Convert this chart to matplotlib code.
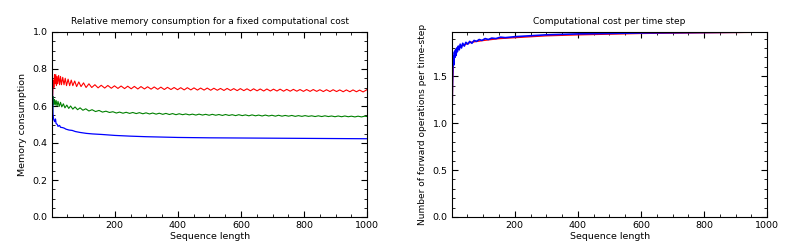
import matplotlib
matplotlib.use('Agg')
import matplotlib.pyplot as plt
from matplotlib.ticker import MultipleLocator

# left panel: relative memory for fixed compute (sawtooth vertices)
red_x = [3, 5, 7, 9, 11, 13, 15, 17, 19, 22, 25, 28, 31, 35, 39, 43, 47, 52, 57, 62, 67, 73, 79, 86, 93,
         101, 109, 118, 127, 137, 147, 157, 168, 178, 189, 199, 210, 220, 231, 241, 252, 262, 273, 283,
         294, 304, 315, 325, 336, 346, 357, 367, 378, 388, 399, 409, 420, 430, 441, 451, 462, 472, 483,
         493, 504, 514, 525, 535, 546, 556, 567, 577, 588, 598, 609, 619, 630, 640, 651, 661, 672, 682,
         693, 703, 714, 724, 735, 745, 756, 766, 777, 787, 798, 808, 819, 829, 840, 850, 861, 871, 882,
         892, 903, 913, 924, 934, 945, 955, 966, 976, 987, 997, 1000]
red_y = [0.65, 0.74, 0.70, 0.77, 0.72, 0.77, 0.71, 0.76, 0.72, 0.765, 0.715, 0.76, 0.715, 0.755, 0.715,
         0.75, 0.71, 0.745, 0.71, 0.74, 0.71, 0.735, 0.705, 0.73, 0.705, 0.725, 0.70, 0.72, 0.70, 0.715,
         0.698, 0.712, 0.697, 0.711, 0.696, 0.709, 0.695, 0.708, 0.694, 0.707, 0.693, 0.706, 0.692, 0.705,
         0.692, 0.704, 0.691, 0.703, 0.690, 0.702, 0.689, 0.701, 0.689, 0.700, 0.688, 0.699, 0.687, 0.699,
         0.687, 0.698, 0.686, 0.697, 0.686, 0.697, 0.685, 0.696, 0.685, 0.695, 0.684, 0.695, 0.684, 0.694,
         0.683, 0.694, 0.683, 0.693, 0.682, 0.693, 0.682, 0.692, 0.681, 0.692, 0.681, 0.691, 0.681, 0.691,
         0.680, 0.690, 0.680, 0.690, 0.680, 0.689, 0.679, 0.689, 0.679, 0.689, 0.679, 0.688, 0.678, 0.688,
         0.678, 0.688, 0.678, 0.687, 0.677, 0.687, 0.677, 0.687, 0.677, 0.686, 0.676, 0.686, 0.69]

green_x = [3, 5, 7, 9, 11, 14, 17, 20, 24, 28, 32, 37, 42, 48, 54, 60, 67, 74, 82, 90, 99, 108, 118, 128,
           139, 150, 161, 172, 183, 194, 205, 215, 226, 236, 247, 257, 268, 278, 289, 299, 310, 320, 331,
           341, 352, 362, 373, 383, 394, 404, 415, 425, 436, 446, 457, 467, 478, 488, 499, 509, 520, 530,
           541, 551, 562, 572, 583, 593, 604, 614, 625, 635, 646, 656, 667, 677, 688, 698, 709, 719, 730,
           740, 751, 761, 772, 782, 793, 803, 814, 824, 835, 845, 856, 866, 877, 887, 898, 908, 919, 929,
           940, 950, 961, 971, 982, 992, 1000]
green_y = [0.56, 0.65, 0.61, 0.635, 0.605, 0.63, 0.60, 0.625, 0.598, 0.62, 0.595, 0.612, 0.59, 0.605,
           0.587, 0.60, 0.583, 0.595, 0.58, 0.59, 0.577, 0.585, 0.573, 0.58, 0.570, 0.576, 0.567, 0.572,
           0.565, 0.569, 0.562, 0.567, 0.561, 0.566, 0.560, 0.565, 0.559, 0.564, 0.558, 0.563, 0.557, 0.562,
           0.556, 0.561, 0.555, 0.560, 0.554, 0.559, 0.553, 0.558, 0.553, 0.557, 0.552, 0.556, 0.551, 0.556,
           0.551, 0.555, 0.550, 0.555, 0.550, 0.554, 0.549, 0.554, 0.549, 0.553, 0.548, 0.553, 0.548, 0.552,
           0.547, 0.552, 0.547, 0.551, 0.546, 0.551, 0.546, 0.550, 0.545, 0.550, 0.545, 0.549, 0.545, 0.549,
           0.544, 0.548, 0.544, 0.548, 0.544, 0.547, 0.543, 0.547, 0.543, 0.547, 0.543, 0.546, 0.542, 0.546,
           0.542, 0.546, 0.542, 0.545, 0.541, 0.545, 0.541, 0.545, 0.543]

blue_x = [1, 2, 3, 4, 6, 8, 10, 12, 14, 18, 20, 25, 28, 35, 40, 45, 55, 65, 75, 90, 110, 130, 160, 200,
          250, 300, 400, 500, 600, 700, 800, 900, 1000]
blue_y = [1.0, 0.78, 0.62, 0.56, 0.53, 0.52, 0.515, 0.53, 0.505, 0.50, 0.49, 0.495, 0.485, 0.483, 0.48,
          0.475, 0.47, 0.468, 0.462, 0.457, 0.452, 0.449, 0.446, 0.441, 0.437, 0.434, 0.430, 0.428, 0.427,
          0.426, 0.425, 0.424, 0.423]

# right panel: forward operations per time step
cost_red_x = [1, 3, 5, 8, 12, 20, 30, 45, 60, 80, 100, 150, 200, 300, 400, 600, 800, 1000]
cost_red_y = [1.0, 1.45, 1.6, 1.7, 1.75, 1.79, 1.82, 1.84, 1.86, 1.87, 1.88, 1.90, 1.91, 1.93, 1.94,
              1.955, 1.962, 1.968]
cost_blue_x = [1, 2, 3, 4, 5, 6, 7, 8, 9, 10, 12, 14, 16, 18, 21, 24, 27, 31, 35, 40, 45, 51, 57, 64,
               71, 79, 87, 96, 106, 116, 127, 140, 155, 170, 200, 250, 300, 400, 500, 600, 800, 1000]
cost_blue_y = [1.0, 1.33, 1.5, 1.6, 1.67, 1.71, 1.62, 1.74, 1.76, 1.70, 1.78, 1.72, 1.80, 1.76, 1.82,
               1.78, 1.84, 1.80, 1.85, 1.82, 1.86, 1.84, 1.87, 1.85, 1.88, 1.87, 1.89, 1.88, 1.90, 1.89,
               1.905, 1.90, 1.915, 1.91, 1.92, 1.93, 1.94, 1.95, 1.955, 1.96, 1.965, 1.97]


def style(ax):
    ax.tick_params(which='both', direction='in', top=True, right=True, labelsize=6.8, pad=3)
    ax.tick_params(which='major', length=4)
    ax.tick_params(which='minor', length=2)
    ax.xaxis.set_major_locator(MultipleLocator(200))
    ax.xaxis.set_minor_locator(MultipleLocator(50))
    ax.set_xlim(1, 1000)
    ax.set_xlabel('Sequence length', fontsize=6.8, labelpad=1)


fig = plt.figure(figsize=(8, 2.5), dpi=100)

ax1 = fig.add_axes([0.065, 0.132, 0.394, 0.74])
ax1.plot(red_x, red_y, color='red', lw=0.8)
ax1.plot(green_x, green_y, color='green', lw=0.8)
ax1.plot(blue_x, blue_y, color='blue', lw=0.9)
style(ax1)
ax1.set_ylim(0, 1)
ax1.yaxis.set_major_locator(MultipleLocator(0.2))
ax1.yaxis.set_minor_locator(MultipleLocator(0.05))
ax1.set_ylabel('Memory consumption', fontsize=6.8)
ax1.set_title('Relative memory consumption for a fixed computational cost', fontsize=6.5)

ax2 = fig.add_axes([0.565, 0.132, 0.394, 0.74])
ax2.plot(cost_red_x, cost_red_y, color='red', lw=1)
ax2.plot(cost_blue_x, cost_blue_y, color='blue', lw=1.2)
style(ax2)
ax2.set_ylim(0, 1.97)
ax2.yaxis.set_major_locator(MultipleLocator(0.5))
ax2.yaxis.set_minor_locator(MultipleLocator(0.1))
ax2.set_ylabel('Number of forward operations per time-step', fontsize=6.5)
ax2.set_title('Computational cost per time step', fontsize=6.5)

fig.savefig('out.png', dpi=100)
